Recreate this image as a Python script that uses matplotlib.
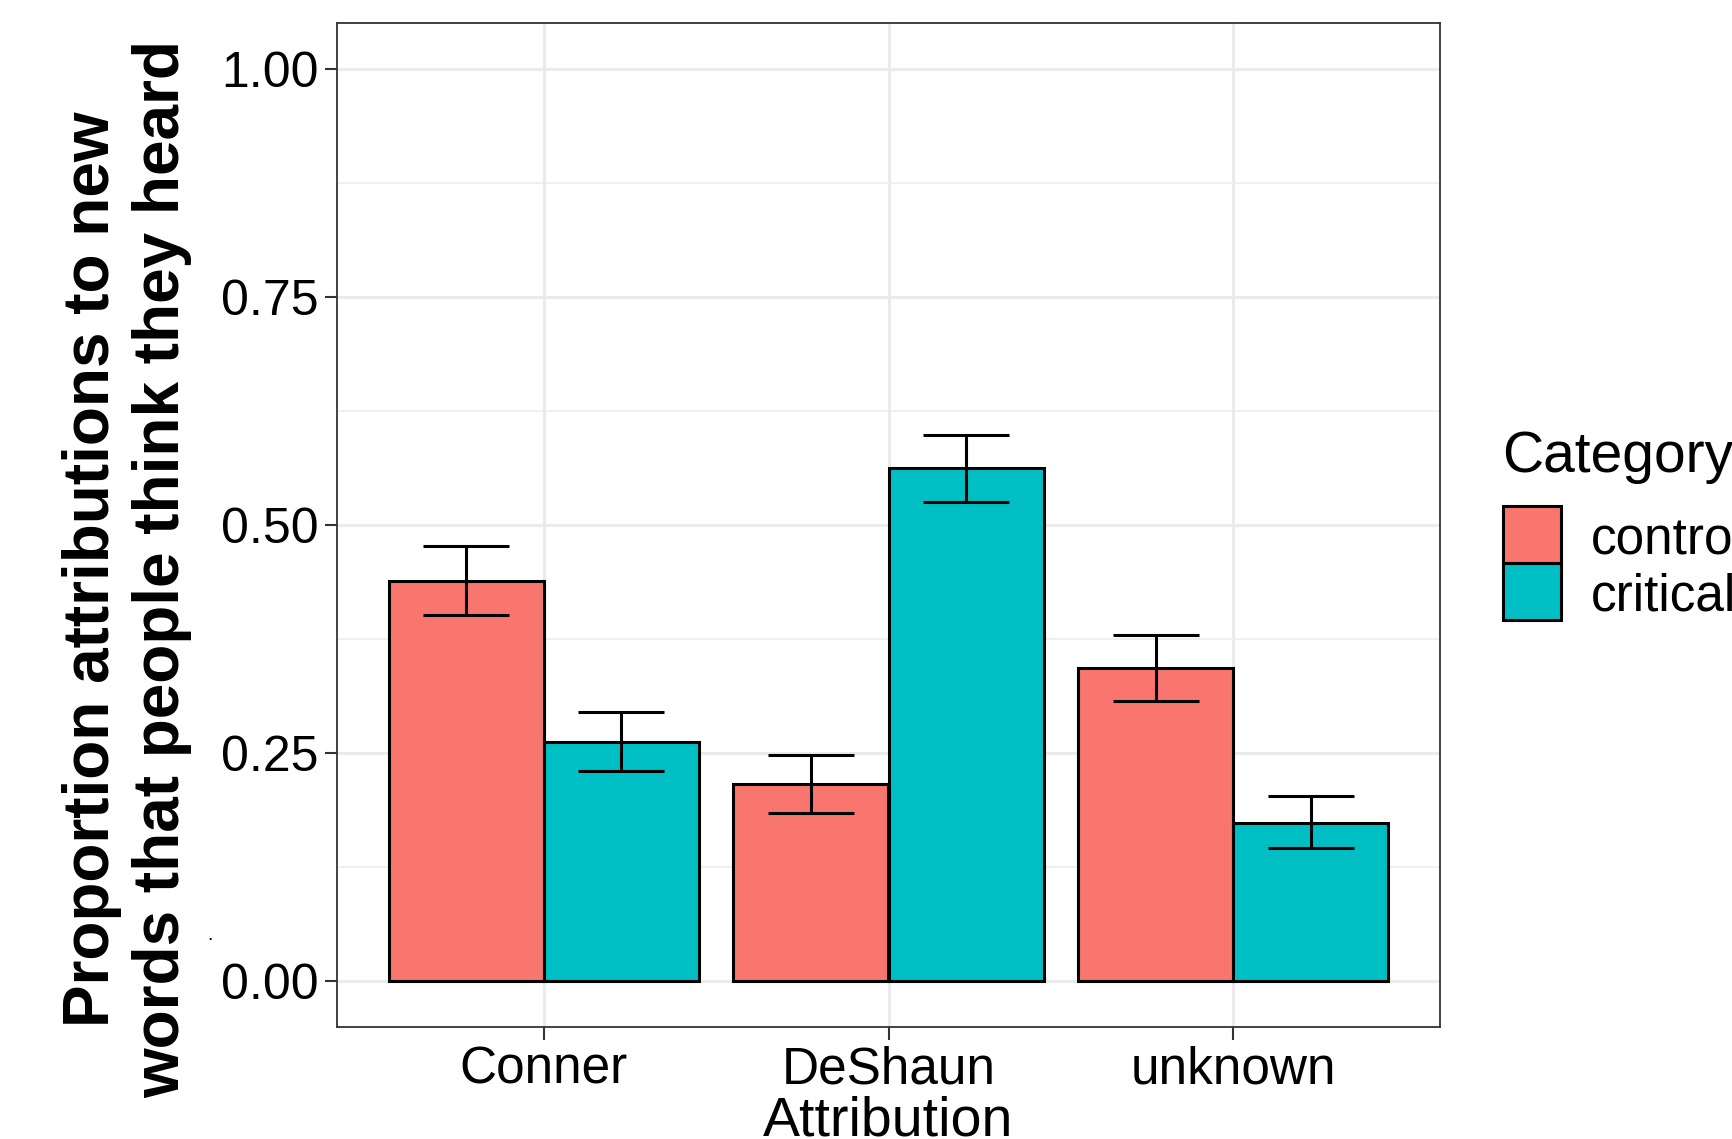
"""Barras agrupadas: proporcion de atribuciones por categoria (estilo ggplot theme_bw)."""

import matplotlib

matplotlib.use("Agg")
import matplotlib.pyplot as plt
from matplotlib.patches import Rectangle
import numpy as np

plt.rcParams["font.family"] = ["Liberation Sans", "DejaVu Sans"]

# Datos
attribution = ["Conner", "DeShaun", "unknown"]
categories = ["control", "critical"]
colors = ["#F8766D", "#00BFC4"]

means_control = [0.439, 0.216, 0.343]
lower_control = [0.401, 0.185, 0.307]
upper_control = [0.477, 0.248, 0.380]

means_critical = [0.262, 0.562, 0.174]
lower_critical = [0.230, 0.525, 0.146]
upper_critical = [0.295, 0.599, 0.203]

y_ticks = [0.0, 0.25, 0.5, 0.75, 1.0]
y_ticklabels = ["0.00", "0.25", "0.50", "0.75", "1.00"]

W, H = 1733, 1139
fig = plt.figure(figsize=(W / 100, H / 100), dpi=100)
ax = fig.add_axes([337 / W, 1 - 1027 / H, (1440 - 337) / W, (1027 - 23) / H])

x = np.arange(1, len(attribution) + 1)
bar_w = 0.45
series = [
    (means_control, lower_control, upper_control),
    (means_critical, lower_critical, upper_critical),
]

for k, (m, lo, hi) in enumerate(series):
    xs = x + (k - 0.5) * bar_w
    ax.bar(xs, m, width=bar_w, color=colors[k], edgecolor="black",
           linewidth=2.2, zorder=3)
    ax.vlines(xs, lo, hi, color="black", linewidth=2.2, zorder=4)
    ax.hlines(lo, xs - 0.125, xs + 0.125, color="black", linewidth=2.2, zorder=4)
    ax.hlines(hi, xs - 0.125, xs + 0.125, color="black", linewidth=2.2, zorder=4)

ax.set_xlim(0.4, 3.6)
ax.set_ylim(-0.05, 1.05)
ax.set_xticks(x)
ax.set_xticklabels(attribution, fontsize=37)
ax.set_yticks(y_ticks)
ax.set_yticklabels(y_ticklabels, fontsize=36)
ax.set_yticks([0.125, 0.375, 0.625, 0.875], minor=True)

# Rejilla al estilo theme_bw
ax.grid(which="major", color="#EBEBEB", linewidth=2.2, zorder=0)
ax.grid(which="minor", axis="y", color="#EBEBEB", linewidth=1.1, zorder=0)
ax.set_axisbelow(True)
for s in ax.spines.values():
    s.set_color("#333333")
    s.set_linewidth(1.3)

ax.tick_params(axis="both", which="major", length=9,
               width=1.5, color="#333333", labelcolor="black", pad=4)
ax.tick_params(axis="y", which="minor", length=0)

# Titulos de ejes
fig.text(127 / W, 0.5,
         "Proportion attributions to new\nwords that people think they heard",
         rotation=90, ha="center", va="center", fontsize=46,
         fontweight="bold", linespacing=1.2)
fig.text(888 / W, 1 - 1136 / H, "Attribution", ha="center", va="baseline",
         fontsize=40)
fig.text(210 / W, 1 - 940 / H, ".", ha="center", va="baseline", fontsize=14)

# Leyenda dibujada a mano (se corta en el borde derecho como en el original)
fig.text(1502 / W, 1 - 472 / H, "Category", ha="left", va="baseline",
         fontsize=41)
key_tops = [506, 563]
for k, cat in enumerate(categories):
    top = key_tops[k]
    fig.add_artist(Rectangle((1503 / W, 1 - (top + 57) / H), 58 / W, 57 / H,
                             transform=fig.transFigure, facecolor=colors[k],
                             edgecolor="black", linewidth=2.2))
    fig.text(1591 / W, 1 - (top + 28.5) / H, cat, ha="left",
             va="center_baseline", fontsize=37)

fig.savefig("out.png", dpi=100)
